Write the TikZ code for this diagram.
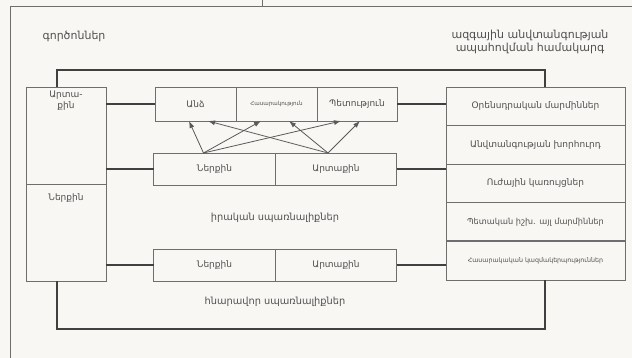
\documentclass[tikz,border=0pt]{standalone}
\usepackage{fontspec}
\setmainfont{DejaVu Sans}
\usetikzlibrary{arrows.meta,positioning}
\definecolor{paper}{RGB}{248,247,244}
\definecolor{ink}{RGB}{80,80,80}
\definecolor{rule}{RGB}{110,110,110}

\begin{document}
\begin{tikzpicture}[
  x=1pt, y=-1pt, font=\fontsize{9}{11}\selectfont, text=ink,
  box/.style={draw=rule, line width=0.8pt, outer sep=0pt, inner sep=1pt, align=center},
  cell/.style={box, minimum width=81pt, minimum height=34pt},
  wide/.style={box, minimum width=121.5pt, minimum height=32pt},
  organ/.style={box, minimum width=179pt, minimum height=38.6pt},
  side/.style={box, minimum width=80pt, minimum height=97pt},
  txt/.style={inner sep=1pt, align=center},
  head/.style={txt, font=\fontsize{11}{13}\selectfont},
  mid/.style={txt, font=\fontsize{9.8}{12}\selectfont},
  tiny/.style={font=\fontsize{5.6}{6}\selectfont},
  small/.style={font=\fontsize{8.2}{9}\selectfont},
  smaller/.style={font=\fontsize{6.3}{7}\selectfont},
  link/.style={draw=black!75, line width=2pt},
  arr/.style={-{Latex[length=7pt,width=5pt]}, draw=black!65, line width=0.8pt}
]
\fill[paper] (0,0) rectangle (632,358);
\useasboundingbox (0,0) rectangle (632,358);
% outer frame
\draw[rule, line width=0.9pt] (262,0) -- (262,6);
\draw[rule, line width=0.9pt] (10,358) -- (10,6) -- (632,6);

\node[head] (factors) at (74,36) {գործոններ};
\node[head] (system) at (530,42) {ազգային անվտանգության\\ապահովման համակարգ};

% factors column
\node[side] (ext) at (66,135.5) {};
\node[side, below=0pt of ext] (int) {};
\node[txt, below=3pt of ext.north] (extlbl) {Արտա-\\քին};
\node[txt, below=8pt of int.north] (intlbl) {Ներքին};

% objects of security
\node[cell] (pers) at (195.5,104) {Անձ};
\node[cell, right=0pt of pers, tiny] (soc) {Հասարակություն};
\node[cell, right=0pt of soc, minimum width=80pt] (state) {Պետություն};

% real threats
\node[wide] (in1) at (214.5,169) {Ներքին};
\node[wide, right=0pt of in1] (ex1) {Արտաքին};
\node[mid] (real) at (275,218) {իրական սպառնալիքներ};

% possible threats
\node[wide] (in2) at (214.5,265) {Ներքին};
\node[wide, right=0pt of in2] (ex2) {Արտաքին};
\node[mid] (poss) at (275,302) {հնարավոր սպառնալիքներ};

% system column
\node[organ] (leg) at (535.5,106.3) {Օրենսդրական մարմիններ};
\node[organ, below=0pt of leg] (council) {Անվտանգության խորհուրդ};
\node[organ, below=0pt of council] (power) {Ուժային կառույցներ};
\node[organ, below=0pt of power, small] (other) {Պետական իշխ. այլ մարմիններ};
\node[organ, below=0pt of other, smaller] (pub) {Հասարակական կազմակերպություններ};
\draw[rule, line width=1.8pt] (other.south west) -- (other.south east);

% links
\draw[link] (pers.west -| ext.east) -- (pers.west);
\draw[link] (in1.west -| ext.east) -- (in1.west);
\draw[link] (in2.west -| int.east) -- (in2.west);
\draw[link] (state.east) -- (state.east -| leg.west);
\draw[link] (ex1.east) -- (ex1.east -| power.west);
\draw[link] (ex2.east) -- (ex2.east -| pub.west);
\draw[link] ([xshift=-9pt]ext.north) -- ++(0,-17) -| ([xshift=9.5pt]leg.north);
\draw[link] ([xshift=-9pt]int.south) -- ++(0,48) -| ([xshift=9.5pt]pub.south);

% threats act on the objects
\draw[arr] ([xshift=-11pt]in1.north) -- ([xshift=-6.5pt]pers.south);
\draw[arr] ([xshift=-11pt]in1.north) -- ([xshift=-15.5pt]soc.south);
\draw[arr] ([xshift=-11pt]in1.north) -- ([xshift=-16pt]state.south);
\draw[arr] ([xshift=-8pt]ex1.north) -- ([xshift=12.5pt]pers.south);
\draw[arr] ([xshift=-8pt]ex1.north) -- ([xshift=12.5pt]soc.south);
\draw[arr] ([xshift=-8pt]ex1.north) -- ([xshift=3pt]state.south);
\end{tikzpicture}
\end{document}
